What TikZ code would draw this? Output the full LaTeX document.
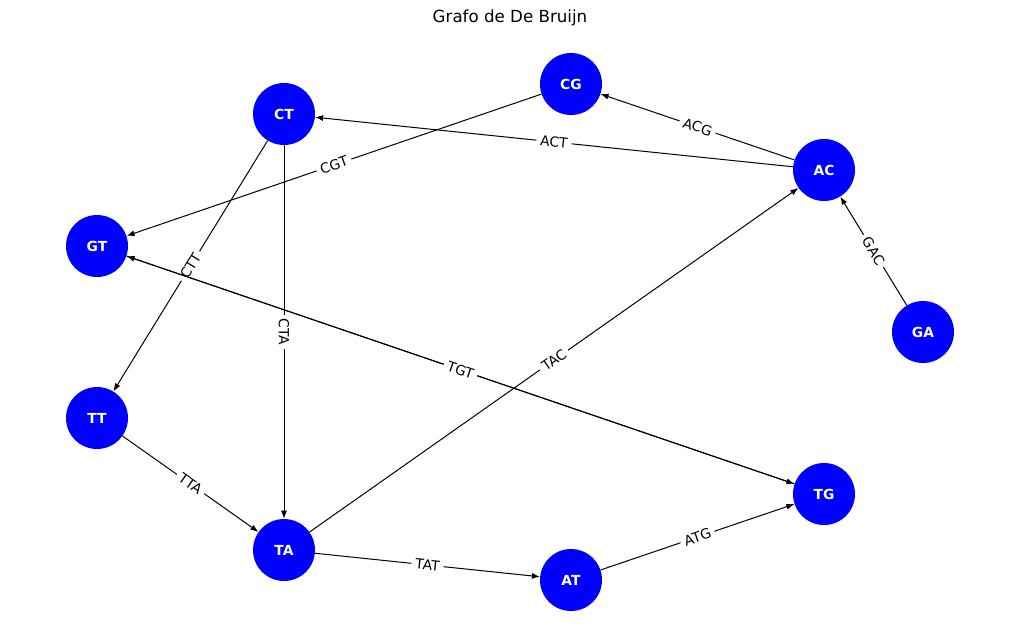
\documentclass[tikz,border=0pt]{standalone}
\usepackage{fontspec}
\setmainfont{DejaVu Sans}
\usetikzlibrary{arrows.meta}
\begin{document}
\begin{tikzpicture}[x=0.75pt,y=-0.75pt,
  vert/.style={circle,fill={rgb,255:red,0;green,0;blue,255},draw=none,minimum size=46.5pt,inner sep=0pt,text=white,font=\fontsize{10.4}{12}\selectfont\bfseries},
  edge/.style={line width=0.75pt,-{Latex[length=6pt,width=4.5pt]}},
  lbl/.style={midway,sloped,fill=white,inner xsep=3pt,inner ysep=2pt,font=\fontsize{10.4}{12}\selectfont}]
\useasboundingbox (0,0) rectangle (1019,642);
\node[font=\fontsize{12.5}{15}\selectfont] (title) at (510,18) {Grafo de De Bruijn};
\node[vert] (CG) at (571,84) {CG};
\node[vert] (CT) at (284,114) {CT};
\node[vert] (AC) at (824,170) {AC};
\node[vert] (GT) at (97,246) {GT};
\node[vert] (GA) at (923,332) {GA};
\node[vert] (TT) at (97,418) {TT};
\node[vert] (TG) at (824,494) {TG};
\node[vert] (TA) at (284,550) {TA};
\node[vert] (AT) at (571,580) {AT};
\draw[edge] (AC) -- node[lbl] {ACG} (CG);
\draw[edge] (AC) -- node[lbl] {ACT} (CT);
\draw[edge] (CG) -- node[lbl] {CGT} (GT);
\draw[edge] (CT) -- node[lbl] {CTT} (TT);
\draw[edge] (CT) -- node[lbl] {CTA} (TA);
\draw[edge] (GA) -- node[lbl] {GAC} (AC);
\draw[edge] (TG) -- (GT);
\draw[edge] (GT) -- node[lbl] {TGT} (TG);
\draw[edge] (TT) -- node[lbl] {TTA} (TA);
\draw[edge] (TA) -- node[lbl] {TAC} (AC);
\draw[edge] (TA) -- node[lbl] {TAT} (AT);
\draw[edge] (AT) -- node[lbl] {ATG} (TG);
\end{tikzpicture}
\end{document}
